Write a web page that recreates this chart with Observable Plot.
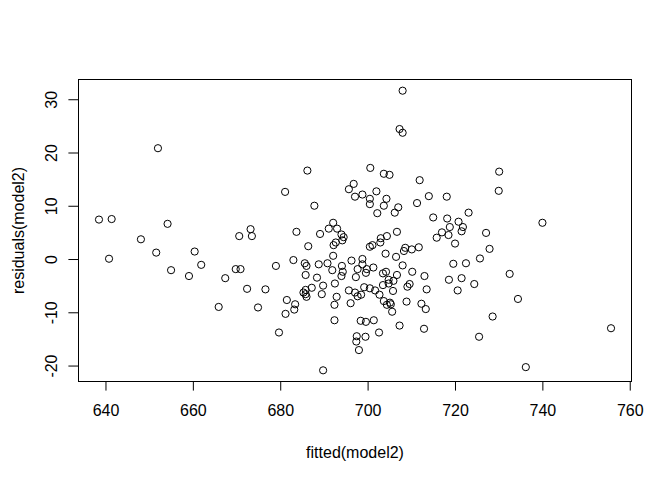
<!DOCTYPE html>
<html><head>
<meta charset="utf-8">
<script src="https://cdn.jsdelivr.net/npm/d3@7"></script>
<script src="https://cdn.jsdelivr.net/npm/@observablehq/plot@0.6"></script>
<style>body{margin:0;background:#fff}</style>
</head><body><div id="chart"></div>
<script>
const fitted = [651.9,638.4,641.3,654.1,670.5,673.1,673.4,648.0,640.7,651.5,660.3,654.9,661.8,659.0,667.3,669.7,670.8,672.3,676.5,665.8,674.8,
683.6,689.0,691.0,692.9,693.9,694.4,694.1,692.1,692.6,686.3,678.9,682.9,685.5,685.9,685.7,688.3,688.7,690.7,692.0,691.8,694.0,694.2,693.9,
696.2,698.7,698.7,697.6,699.7,699.5,701.2,697.2,689.7,687.1,685.7,685.2,685.7,685.9,689.4,692.4,692.8,692.3,692.3,681.4,683.3,683.1,681.1,
679.6,689.7,695.6,697.0,697.6,698.4,699.1,700.4,701.6,702.6,696.0,698.3,699.5,701.3,697.4,697.3,699.4,697.9,702.5,703.6,704.3,705.0,705.2,
705.5,707.2,703.4,704.1,704.7,705.8,703.4,704.7,705.7,706.6,706.4,707.9,710.1,709.0,709.5,708.8,712.2,713.2,712.8,712.9,713.4,700.4,701.0,
702.8,702.9,704.3,706.6,704.0,708.5,708.2,710.0,711.6,715.7,716.9,718.4,718.7,721.4,719.9,719.5,718.5,721.4,720.5,720.7,721.7,723.0,727.0,
730.0,729.9,739.9,727.8,725.6,722.4,724.3,732.4,734.3,728.5,725.4,736.1,755.6,707.9,707.2,707.9,686.1,700.5,703.6,704.9,711.8,681.0,695.6,
696.7,701.9,698.7,697.0,700.4,700.4,704.2,703.6,706.9,706.1,702.1,687.7,711.2,713.9,718.0,714.9,718.1,692.0];
const residuals = [20.9,7.5,7.6,6.7,4.4,5.7,4.4,3.8,0.15,1.3,1.5,-2.0,-1.0,-3.1,-3.5,-1.8,-1.8,-5.5,-5.6,-8.9,-9.0,
5.2,4.8,5.8,5.8,4.7,4.2,3.6,2.7,3.2,2.5,-1.2,-0.1,-0.7,-1.2,-2.9,-3.4,-0.9,-0.7,0.7,-2.0,-1.2,-2.3,-3.1,
-0.2,0.1,-0.9,-1.8,-1.8,-2.5,-1.5,-3.3,-4.9,-5.3,-5.7,-6.2,-6.5,-7.0,-6.5,-4.5,-7.0,-8.5,-11.4,-7.6,-8.4,-9.4,-10.2,
-13.7,-20.8,-5.8,-6.2,-6.9,-6.6,-5.2,-5.4,-5.8,-6.6,-8.2,-11.5,-11.7,-11.4,-14.4,-15.4,-14.5,-17.0,-13.7,-7.8,-8.5,-8.1,-8.4,
-9.8,-12.4,-2.6,-2.3,-3.8,-4.0,-4.8,-4.5,-5.9,-2.9,0.5,-1.1,-2.3,-5.1,-4.6,-7.9,-8.3,-9.3,-13.0,-3.1,-5.6,2.4,2.7,
3.2,4.0,4.4,5.2,1.1,2.2,1.6,1.9,2.3,4.1,5.1,4.6,6.1,5.3,3.0,-0.8,-3.8,-3.5,-5.8,7.1,6.1,8.8,5.0,
16.5,12.9,6.9,2.0,0.2,-0.7,-4.6,-2.7,-7.4,-10.7,-14.5,-20.2,-12.9,31.7,24.5,23.8,16.7,17.2,16.1,15.9,14.9,12.7,13.2,
14.2,12.8,12.2,11.8,11.4,10.4,11.4,10.1,9.8,8.8,8.7,10.1,10.6,11.9,11.8,7.9,7.7,6.9];
const xTicks = [640,660,680,700,720,740,760];
const yTicks = [-20,-10,0,10,20,30];
const xLabel = "fitted(model2)";
const yLabel = "residuals(model2)";

const data = fitted.map((f, i) => ({fitted: f, resid: residuals[i]}));
function rExtent(v) { const [a, b] = d3.extent(v); const r = b - a; return [a - 0.04 * r, b + 0.04 * r]; }

const chart = Plot.plot({
  width: 672, height: 480,
  marginLeft: 78, marginRight: 41, marginTop: 79, marginBottom: 99,
  style: {fontFamily: "'Liberation Sans', Arial, sans-serif", fontSize: "16px", background: "white", color: "black"},
  x: {domain: rExtent(fitted)},
  y: {domain: rExtent(residuals)},
  marks: [
    Plot.frame({stroke: "black", strokeWidth: 1}),
    Plot.axisX({ticks: xTicks, tickSize: 9.6, tickPadding: 14, tickFormat: d => String(d), fontSize: 16,
      label: xLabel, labelAnchor: "center", labelArrow: "none", labelOffset: 76}),
    Plot.axisY({ticks: yTicks, tickSize: 9.6, tickPadding: 12, tickRotate: -90, tickFormat: d => String(d), fontSize: 16,
      label: yLabel, labelAnchor: "center", labelArrow: "none", labelOffset: 66}),
    Plot.dot(data, {x: "fitted", y: "resid", r: 3.6, stroke: "black", strokeWidth: 1, fill: "none"})
  ]
});
document.getElementById("chart").appendChild(chart);
</script>
</body></html>
